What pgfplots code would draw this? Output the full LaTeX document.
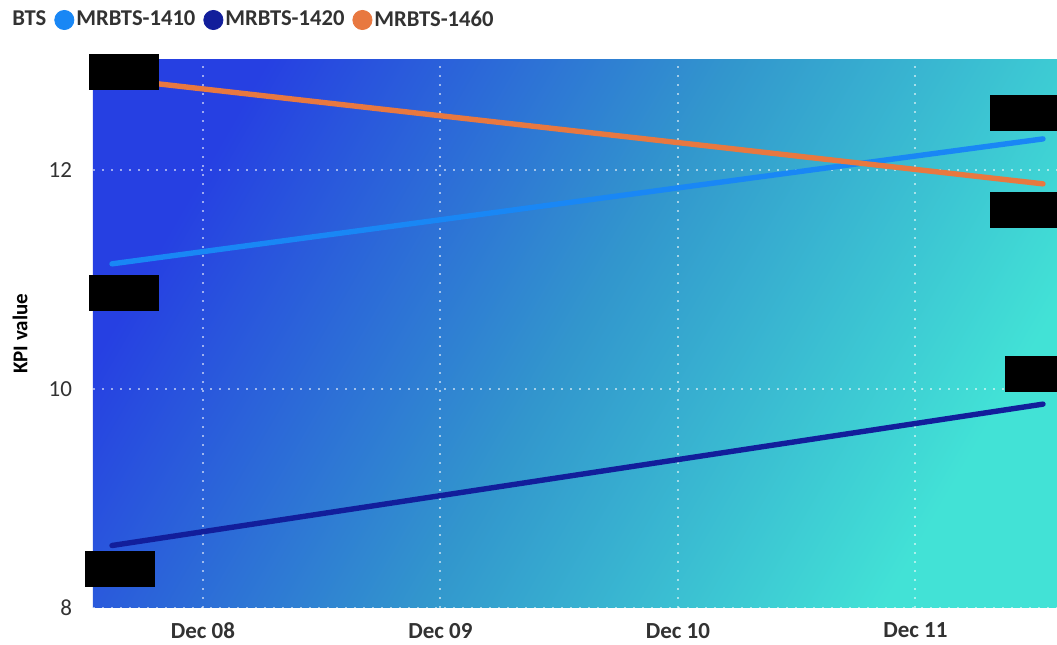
\documentclass[border=0pt]{standalone}
\usepackage{pgfplots}
\pgfplotsset{compat=1.18}
\usepackage{fontspec}
\setmainfont{Carlito}
\definecolor{c1410}{RGB}{25,135,245}
\definecolor{c1420}{RGB}{18,30,155}
\definecolor{c1460}{RGB}{232,120,64}
\definecolor{bgA}{RGB}{38,64,226}
\definecolor{bgM}{RGB}{50,150,205}
\definecolor{bgB}{RGB}{66,226,214}
\definecolor{txt}{RGB}{50,50,50}
\begin{document}
\begin{tikzpicture}
\begin{axis}[name=ax, scale only axis, width=482pt, height=274pt,
  xmin=-0.463, xmax=3.596, ymin=8, ymax=13,
  xtick={0,1,2,3}, xticklabels={Dec 08,Dec 09,Dec 10,Dec 11},
  ytick={8,10,12},
  /pgf/number format/assume math mode=true,
  axis line style={draw=none}, major tick length=0pt,
  grid=major,
  grid style={white, opacity=0.55, line width=1pt, dash pattern=on 1pt off 3.5pt},
  axis background/.style={top color=bgA, bottom color=bgB, middle color=bgM, shading angle=60},
  xticklabel style={font=\bfseries\fontsize{11.5}{12}\selectfont, text=txt, yshift=-4pt},
  yticklabel style={font=\fontsize{11.5}{12}\selectfont, text=txt, xshift=-7pt},
  ylabel={KPI value},
  every axis y label/.style={at={(axis description cs:0,0.5)}, rotate=90, anchor=center, yshift=36.5pt, font=\bfseries\fontsize{10.5}{11}\selectfont, text=black},
  legend style={draw=none, fill=none, legend columns=-1,
    at={(axis description cs:0,1)}, anchor=west, xshift=-44.5pt, yshift=20pt,
    font=\bfseries\fontsize{11.3}{12}\selectfont, text=txt,
    /tikz/every odd column/.append style={column sep=0pt},
    /tikz/every even column/.append style={column sep=3pt},
    nodes={inner sep=1pt}},
  legend image code/.code={\fill[#1] (4.5pt,0pt) circle (4.8pt);},
  every node near coord/.style={fill=black, inner sep=0pt, minimum width=35pt, minimum height=18pt, anchor=center, xshift=\dx pt, yshift=\dy pt},
]
\addlegendimage{empty legend}\addlegendentry{BTS\hspace{6.5pt}}
\addlegendimage{c1410}\addlegendentry{MRBTS-1410}
\addlegendimage{c1420}\addlegendentry{MRBTS-1420}
\addlegendimage{c1460}\addlegendentry{MRBTS-1460}

\addplot[forget plot, c1410, line width=2.7pt, line cap=round,
  nodes near coords={\phantom{0}},
  visualization depends on={value \thisrow{dx}\as\dx},
  visualization depends on={value \thisrow{dy}\as\dy}] table {
x y dx dy
-0.383 11.14 6 -14.5
3.537 12.28 -9 13
};
\addplot[forget plot, c1420, line width=2.7pt, line cap=round,
  nodes near coords={\phantom{0}},
  visualization depends on={value \thisrow{dx}\as\dx},
  visualization depends on={value \thisrow{dy}\as\dy}] table {
x y dx dy
-0.383 8.57 4 -11.5
3.537 9.86 -1.5 15
};
\addplot[forget plot, c1460, line width=2.7pt, line cap=round,
  nodes near coords={\phantom{0}},
  visualization depends on={value \thisrow{dx}\as\dx},
  visualization depends on={value \thisrow{dy}\as\dy}] table {
x y dx dy
-0.383 12.83 6 3.5
3.537 11.87 -9 -13
};
\end{axis}
\pgfresetboundingbox
\path ([xshift=-46.5pt,yshift=-18.5pt]ax.south west) rectangle ([yshift=30pt]ax.north east);
\end{tikzpicture}
\end{document}
